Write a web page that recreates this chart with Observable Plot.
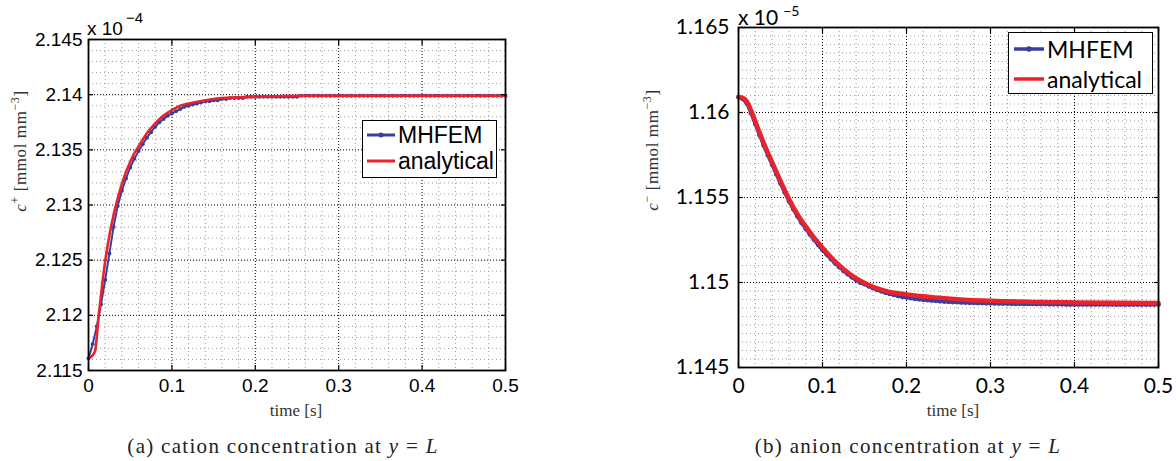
<!DOCTYPE html>
<html><head><meta charset="utf-8">
<script src="https://cdn.jsdelivr.net/npm/d3@7"></script>
<script src="https://cdn.jsdelivr.net/npm/@observablehq/plot@0.6"></script>
<style>
body{margin:0;background:#fff;}
#root{position:relative;width:1176px;height:461px;overflow:hidden;background:#fff;}
.abs{position:absolute;white-space:nowrap;}
.serif{font-family:"Liberation Serif","Times New Roman",serif;color:#333;}
.narrow{font-family:"Liberation Sans Narrow","Liberation Sans",Lato,sans-serif;color:#000;}
.lato{font-family:Lato,"Liberation Sans",sans-serif;color:#000;}
.legend{position:absolute;border:1.5px solid #000;background:#fff;box-sizing:border-box;}
</style></head><body><div id="root"></div>
<script>
// ---------------- data ----------------
const time = [
0,0.005,0.01,0.015,0.02,0.025,0.03,0.035,0.04,0.045,
0.05,0.055,0.06,0.065,0.07,0.075,0.08,0.085,0.09,0.095,
0.1,0.105,0.11,0.115,0.12,0.125,0.13,0.135,0.14,0.145,
0.15,0.155,0.16,0.165,0.17,0.175,0.18,0.185,0.19,0.195,
0.2,0.205,0.21,0.215,0.22,0.225,0.23,0.235,0.24,0.245,
0.25,0.255,0.26,0.265,0.27,0.275,0.28,0.285,0.29,0.295,
0.3,0.305,0.31,0.315,0.32,0.325,0.33,0.335,0.34,0.345,
0.35,0.355,0.36,0.365,0.37,0.375,0.38,0.385,0.39,0.395,
0.4,0.405,0.41,0.415,0.42,0.425,0.43,0.435,0.44,0.445,
0.45,0.455,0.46,0.465,0.47,0.475,0.48,0.485,0.49,0.495,
0.5];

// cation concentration (x 1e-4), MHFEM
const cationMHFEM = [
2.1161,2.1174,2.1190,2.1210,2.1232,2.1256,2.1280,2.1299,2.1313,2.1324,
2.1334,2.1342,2.1349,2.1355,2.1361,2.1366,2.1371,2.1375,2.1378,2.1381,
2.1383,2.1385,2.1387,2.1389,2.1390,2.1391,2.1392,2.1393,2.1394,2.1394,
2.1395,2.1395,2.1396,2.1396,2.1397,2.1397,2.1397,2.1397,2.1398,2.1398,
2.1398,2.1398,2.1398,2.1398,2.1398,2.1398,2.1398,2.1398,2.1398,2.1398,
2.1398,2.1399,2.1399,2.1399,2.1399,2.1399,2.1399,2.1399,2.1399,2.1399,
2.1399,2.1399,2.1399,2.1399,2.1399,2.1399,2.1399,2.1399,2.1399,2.1399,
2.1399,2.1399,2.1399,2.1399,2.1399,2.1399,2.1399,2.1399,2.1399,2.1399,
2.1399,2.1399,2.1399,2.1399,2.1399,2.1399,2.1399,2.1399,2.1399,2.1399,
2.1399,2.1399,2.1399,2.1399,2.1399,2.1399,2.1399,2.1399,2.1399,2.1399,
2.1399];

// cation concentration, analytical
const cationTimeAnalytical = [0,0.004,0.008,0.012,0.016,0.02,0.025,0.03,0.035,0.04,0.045,0.05,0.055,0.06,0.07,0.08,0.09,0.1,0.11,0.12,0.14,0.16,0.2,0.25,0.3,0.4,0.5];
const cationAnalytical = [2.1161,2.1163,2.1168,2.1198,2.1225,2.1249,2.1272,2.1291,2.1306,2.1319,2.1330,2.1339,2.1347,2.1353,2.1365,2.1374,2.1381,2.1386,2.1390,2.1392,2.1395,2.1397,2.1398,2.1399,2.1399,2.1399,2.1399];

// anion concentration (x 1e-5), MHFEM
const anionMHFEM = [
1.16090,1.16080,1.16052,1.15995,1.15932,1.15868,1.15806,1.15748,1.15692,1.15637,
1.15582,1.15529,1.15479,1.15432,1.15390,1.15351,1.15316,1.15283,1.15251,1.15220,
1.15191,1.15164,1.15138,1.15113,1.15090,1.15069,1.15049,1.15031,1.15014,1.14999,
1.14990,1.14978,1.14967,1.14957,1.14948,1.14940,1.14933,1.14927,1.14921,1.14916,
1.14912,1.14908,1.14904,1.14901,1.14898,1.14896,1.14894,1.14892,1.14890,1.14888,
1.14887,1.14885,1.14884,1.14883,1.14882,1.14881,1.14880,1.14879,1.14879,1.14878,
1.14878,1.14877,1.14877,1.14876,1.14876,1.14875,1.14875,1.14875,1.14874,1.14874,
1.14874,1.14873,1.14873,1.14873,1.14872,1.14872,1.14872,1.14872,1.14871,1.14871,
1.14871,1.14871,1.14871,1.14871,1.14871,1.14871,1.14871,1.14871,1.14871,1.14871,
1.14870,1.14870,1.14870,1.14870,1.14870,1.14870,1.14870,1.14870,1.14870,1.14870,
1.14870];

// anion concentration, analytical
const anionTimeAnalytical = [0,0.005,0.01,0.015,0.02,0.025,0.03,0.035,0.04,0.05,0.06,0.07,0.08,0.09,0.1,0.115,0.135,0.155,0.175,0.2,0.23,0.26,0.3,0.35,0.4,0.45,0.5];
const anionAnalytical = [1.16092,1.16086,1.16064,1.16012,1.15948,1.15884,1.15822,1.15764,1.15708,1.15597,1.15493,1.15404,1.15330,1.15264,1.15205,1.15124,1.15040,1.14985,1.14950,1.14930,1.14914,1.14902,1.14892,1.14886,1.14883,1.14881,1.14880];

// ticks
const xTicks = [0,0.1,0.2,0.3,0.4,0.5];
const xTickLabels = ["0","0.1","0.2","0.3","0.4","0.5"];
const cationTicks = [2.115,2.12,2.125,2.13,2.135,2.14,2.145];
const cationTickLabels = ["2.115","2.12","2.125","2.13","2.135","2.14","2.145"];
const anionTicks = [1.145,1.15,1.155,1.16,1.165];
const anionTickLabels = ["1.145","1.15","1.155","1.16","1.165"];
const seriesNames = ["MHFEM","analytical"];

// ---------------- drawing ----------------
const BLUE = "#3b3f9c";
const RED = "#e8232b";
const root = document.getElementById("root");

function minorOf(lo, hi, step, majors) {
  return d3.range(Math.round((hi - lo) / step) + 1).map(i => +(lo + i * step).toFixed(6))
    .filter(v => !majors.some(m => Math.abs(m - v) < step / 10));
}
function labeler(ticks, labels) {
  return d => { const i = ticks.findIndex(t => Math.abs(t - d) < 1e-9); return i < 0 ? "" : labels[i]; };
}

function panel(o) {
  const blue = time.map((t, i) => ({t, v: o.blue[i]}));
  const red = o.redT.map((t, i) => ({t, v: o.red[i]}));
  const xMinor = minorOf(0, 0.5, 0.02, xTicks);
  const yMinor = minorOf(o.yDomain[0], o.yDomain[1], o.yMinorStep, o.yTicks);
  return Plot.plot({
    width: o.width, height: o.height,
    marginTop: o.mt, marginBottom: o.mb, marginLeft: o.ml, marginRight: o.mr,
    x: {domain: [0, 0.5], label: null},
    y: {domain: o.yDomain, label: null},
    style: {fontFamily: o.font, fontSize: o.fontSize + "px", color: "#000", background: "transparent"},
    marks: [
      Plot.gridX(xMinor, {stroke: "#9c9c9c", strokeOpacity: 1, strokeDasharray: "1,3"}),
      Plot.gridY(yMinor, {stroke: "#9c9c9c", strokeOpacity: 1, strokeDasharray: "1,3"}),
      Plot.gridX(xTicks, {stroke: "#000", strokeOpacity: 1, strokeDasharray: "1,2"}),
      Plot.gridY(o.yTicks, {stroke: "#000", strokeOpacity: 1, strokeDasharray: "1,2"}),
      Plot.line(blue, {x: "t", y: "v", stroke: BLUE, strokeWidth: o.blueW}),
      Plot.dot(blue, {x: "t", y: "v", r: o.dotR, fill: BLUE, stroke: "none"}),
      Plot.line(red, {x: "t", y: "v", stroke: RED, strokeWidth: o.redW, curve: "monotone-x"}),
      Plot.frame({stroke: "#000", strokeWidth: 1.8}),
      Plot.axisX(xTicks, {anchor: "bottom", tickSize: 5, dy: -5, fill: "none", strokeWidth: 1.2}),
      Plot.axisX(xTicks, {anchor: "top", tickSize: 5, dy: 5, fill: "none", strokeWidth: 1.2}),
      Plot.axisY(o.yTicks, {anchor: "left", tickSize: 5, dx: 5, fill: "none", strokeWidth: 1.2}),
      Plot.axisY(o.yTicks, {anchor: "right", tickSize: 5, dx: -5, fill: "none", strokeWidth: 1.2}),
      Plot.axisX(xTicks, {anchor: "bottom", tickSize: 0, tickPadding: o.xPad, tickFormat: labeler(xTicks, xTickLabels)}),
      Plot.axisY(o.yTicks, {anchor: "left", tickSize: 0, tickPadding: o.yPad, tickFormat: labeler(o.yTicks, o.yLabels)})
    ]
  });
}

function place(el, left, top) {
  const d = document.createElement("div");
  d.className = "abs"; d.style.left = left + "px"; d.style.top = top + "px";
  d.appendChild(el); root.appendChild(d); return d;
}
function html(cls, left, top, inner, extra) {
  const d = document.createElement("div");
  d.className = "abs " + cls; d.style.left = left + "px"; d.style.top = top + "px";
  d.innerHTML = inner; if (extra) Object.assign(d.style, extra);
  root.appendChild(d); return d;
}

// left panel
place(panel({
  blue: cationMHFEM, redT: cationTimeAnalytical, red: cationAnalytical,
  yDomain: [2.115, 2.145], yTicks: cationTicks, yLabels: cationTickLabels, yMinorStep: 0.001,
  width: 600, height: 425, mt: 39, mb: 55, ml: 88, mr: 95,
  font: '"Liberation Sans Narrow","Liberation Sans",sans-serif', fontSize: 19,
  blueW: 2, dotR: 2, redW: 2.6, xPad: 8, yPad: 6
}), 0, 0);

// right panel
place(panel({
  blue: anionMHFEM, redT: anionTimeAnalytical, red: anionAnalytical,
  yDomain: [1.145, 1.165], yTicks: anionTicks, yLabels: anionTickLabels, yMinorStep: 0.0005,
  width: 576, height: 425, mt: 27, mb: 58, ml: 138, mr: 18,
  font: 'Lato,"Liberation Sans",sans-serif', fontSize: 21,
  blueW: 3.5, dotR: 2.4, redW: 4.5, xPad: 11, yPad: 9
}), 600, 0);

// exponent labels
html("narrow", 87, 19, 'x 10<span style="position:relative;top:-12px;left:3px;font-size:15px">\u22124</span>', {fontSize: "19px", lineHeight: "20px"});
html("lato", 738, 6, 'x 10<span style="position:relative;top:-9px;left:5px;font-size:14px">\u22125</span>', {fontSize: "21px", lineHeight: "22px"});

// axis labels
html("serif", 296, 401, "time [s]", {fontSize: "17px", lineHeight: "20px", transform: "translateX(-50%)"});
html("serif", 953, 401, "time [s]", {fontSize: "17px", lineHeight: "20px", transform: "translateX(-50%)"});
const yl = (sign) => '<i>c</i><sup style="font-size:12px">' + sign + '</sup> [mmol mm<sup style="font-size:12px">\u22123</sup>]';
html("serif", 18, 151, yl("+"), {fontSize: "17px", letterSpacing: "0.6px", lineHeight: "20px", transform: "translate(-50%,-50%) rotate(-90deg)"});
html("serif", 650, 150, yl("\u2212"), {fontSize: "17px", letterSpacing: "0.6px", lineHeight: "20px", transform: "translate(-50%,-50%) rotate(-90deg)"});

// captions
html("serif", 283, 434, '(a) cation concentration at <i>y</i> = <i>L</i>', {fontSize: "21px", letterSpacing: "1.3px", lineHeight: "24px", color: "#222", transform: "translateX(-50%)"});
html("serif", 908, 434, '(b) anion concentration at <i>y</i> = <i>L</i>', {fontSize: "21px", letterSpacing: "1.3px", lineHeight: "24px", color: "#222", transform: "translateX(-50%)"});

// legends
function legend(box, rows, cls, fontSize, lineW, redW, dotR) {
  const b = document.createElement("div");
  b.className = "legend";
  Object.assign(b.style, {left: box.x + "px", top: box.y + "px", width: box.w + "px", height: box.h + "px"});
  root.appendChild(b);
  rows.forEach((r, i) => {
    const svg = d3.create("svg").attr("width", r.x2 - r.x1 + 6).attr("height", 12)
      .style("position", "absolute").style("left", (r.x1 - 3) + "px").style("top", (r.y - 6) + "px");
    svg.append("line").attr("x1", 3).attr("x2", r.x2 - r.x1 + 3).attr("y1", 6).attr("y2", 6)
      .attr("stroke", i === 0 ? BLUE : RED).attr("stroke-width", i === 0 ? lineW : redW);
    if (i === 0) svg.append("circle").attr("cx", (r.x2 - r.x1) / 2 + 3).attr("cy", 6).attr("r", dotR).attr("fill", BLUE);
    root.appendChild(svg.node());
    html(cls, r.tx, r.y - 14, seriesNames[i], {fontSize: fontSize + "px", lineHeight: "28px"});
  });
}
legend({x: 362, y: 120, w: 135, h: 58}, [
  {x1: 367, x2: 395, y: 135, tx: 398},
  {x1: 367, x2: 395, y: 161, tx: 398}
], "narrow", 23, 3, 3, 2.5);
legend({x: 1008, y: 32, w: 145, h: 62}, [
  {x1: 1014, x2: 1044, y: 49, tx: 1047},
  {x1: 1014, x2: 1044, y: 79, tx: 1047}
], "lato", 23, 3.5, 3.5, 2.8);
</script></body></html>
